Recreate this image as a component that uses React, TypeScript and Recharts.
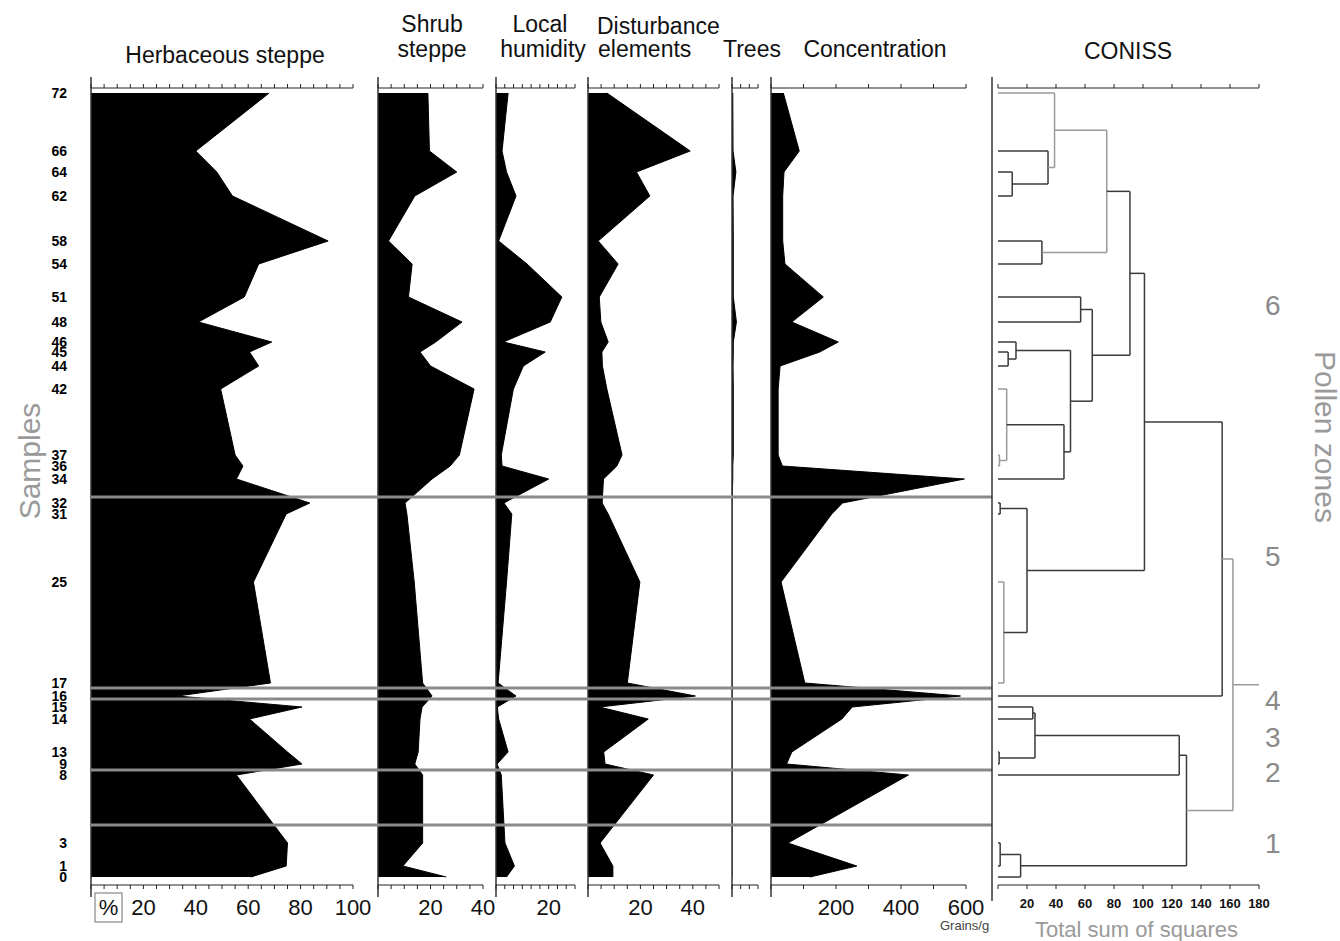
import React from 'react';
import { ComposedChart, Area, XAxis, YAxis, ReferenceLine } from 'recharts';

// samples, top (youngest) to bottom
const sampleLabels = ['72', '66', '64', '62', '58', '54', '51', '48', '46', '45', '44', '42', '37', '36', '34', '32', '31', '25', '17', '16', '15', '14', '13', '9', '8', '3', '1', '0'];
const sampleDepths = [0, 58, 79, 103, 148, 171, 204, 229, 249, 259, 273, 296, 362, 373, 386, 410, 421, 489, 590, 603, 614, 626, 659, 671, 682, 750, 773, 784];

// percentages
const herbaceous = [68, 40, 48, 54, 90.5, 64, 58.5, 41, 69, 60.5, 64, 49.5, 55, 58, 55.5, 83.5, 74.5, 62, 68.5, 33, 80.5, 60.5, 75, 80.5, 55.5, 75, 74.5, 61];
const shrub = [19, 19.6, 30, 14, 4, 13, 11.6, 32, 22, 16, 20, 36.6, 31, 27.5, 20.6, 10.3, 11, 13.8, 17, 20.6, 16.8, 16, 15.3, 14, 17, 17, 9.5, 26];
const humidity = [4.6, 2.3, 4, 7.6, 1, 11.8, 25, 20.6, 2.8, 18.7, 10.4, 6.6, 2, 2.3, 20, 3, 6, 4, 0.8, 7.6, 0.5, 1, 4.6, 0.4, 2, 3.4, 7, 4];
const disturbance = [7.2, 39, 18.5, 23.6, 3.9, 11.5, 4.3, 4.9, 7.7, 5.3, 5.5, 7.2, 13, 11, 5.9, 5.4, 7.7, 19.8, 15, 41, 4.4, 23, 6, 6.5, 25, 4.6, 9.5, 9.5];
const trees = [0.3, 0.4, 1.5, 0.4, 0.5, 0.5, 0.5, 1.7, 0.5, 0.5, 0.4, 0.5, 0.5, 0.3, 0.3, 0, 0, 0, 0, 0, 0, 0, 0, 0, 0, 0, 0, 0];
// grains/g
const concentration = [38, 87, 40, 36, 36, 43, 161, 64, 207, 150, 28, 22, 22, 35, 595, 220, 187, 31, 104, 583, 250, 218, 64, 48, 423, 52, 264, 120];

// pollen zones
const zoneBoundaries = [404, 595, 606, 677, 732];
const zoneLabels = ['6', '5', '4', '3', '2', '1'];
const zoneLabelDepths = [212, 463, 607, 644, 679, 750];

// CONISS merges: [member a, member b, total sum of squares]; m<n> = n-th merge
const conissMerges: [string, string, number][] = [
  ['64', '62', 9.8],
  ['66', 'm1', 34.5],
  ['72', 'm2', 39],
  ['58', '54', 30.3],
  ['m3', 'm4', 75],
  ['51', '48', 57],
  ['45', '44', 7],
  ['46', 'm7', 12.4],
  ['37', '36', 1],
  ['42', 'm9', 6],
  ['m10', '34', 45.5],
  ['m8', 'm11', 50],
  ['m6', 'm12', 65],
  ['m5', 'm13', 91],
  ['32', '31', 1.5],
  ['25', '17', 4],
  ['m15', 'm16', 20],
  ['m14', 'm17', 101],
  ['m18', '16', 154.6],
  ['15', '14', 24],
  ['13', '9', 0.8],
  ['m20', 'm21', 25.5],
  ['m22', '8', 125],
  ['3', '1', 1.5],
  ['m24', '0', 15.6],
  ['m23', 'm25', 130],
  ['m19', 'm26', 162],
];
const conissMax = 180;
const conissLight = ['m3', 'm5', 'm9', 'm10', 'm16', 'm27'];

const W = 1340;
const H = 941;
const FONT = "'Liberation Sans', Arial, sans-serif";
const DEPTH_DOMAIN: [number, number] = [-5, 792];
const TOP_MARGIN = 87;
const BOTTOM_MARGIN = 26;
const AXIS_COLOR = '#222';

const rows = sampleDepths.map((depth, i) => ({
  depth,
  herbaceous: herbaceous[i],
  shrub: shrub[i],
  humidity: humidity[i],
  disturbance: disturbance[i],
  trees: trees[i],
  concentration: concentration[i],
}));

const panels = [
  { key: 'herbaceous', left: 91, right: 353, max: 100, intervals: 20, labels: [20, 40, 60, 80, 100], samples: true },
  { key: 'shrub', left: 378, right: 483, max: 40, intervals: 8, labels: [20, 40] },
  { key: 'humidity', left: 496, right: 575, max: 30, intervals: 9, labels: [20] },
  { key: 'disturbance', left: 588, right: 719, max: 50, intervals: 10, labels: [20, 40] },
  { key: 'trees', left: 732, right: 758, max: 10, intervals: 3, labels: [] },
  { key: 'concentration', left: 771, right: 966, max: 600, intervals: 6, labels: [200, 400, 600] },
];

const tickRange = (max: number, n: number) => Array.from({ length: n + 1 }, (_, i) => (max * i) / n);
const blank = () => '';

const Panel = ({ p }: { p: any }) => {
  const ticks = tickRange(p.max, p.intervals);
  const yw = p.samples ? 40 : 0;
  return (
    <div style={{ position: 'absolute', left: 0, top: 0 }}>
      <ComposedChart
        layout="vertical"
        width={W}
        height={H}
        data={rows}
        margin={{ top: TOP_MARGIN, bottom: BOTTOM_MARGIN, left: p.left - yw, right: W - p.right }}
      >
        <XAxis xAxisId="top" orientation="top" type="number" domain={[0, p.max]} ticks={ticks} interval={0}
          tickFormatter={blank} tickSize={4} height={1} allowDataOverflow stroke={AXIS_COLOR} />
        <XAxis xAxisId="bottom" orientation="bottom" type="number" domain={[0, p.max]} ticks={ticks} interval={0}
          tickSize={4} tickMargin={10} height={30} allowDataOverflow stroke={AXIS_COLOR}
          tick={{ fontSize: 22, fill: '#111', fontFamily: FONT }}
          tickFormatter={(v: number) => {
            const l = p.labels.find((x: number) => Math.abs(x - v) < 1e-6);
            return l === undefined ? '' : String(l);
          }} />
        <YAxis type="number" dataKey="depth" domain={DEPTH_DOMAIN} allowDataOverflow hide={!p.samples}
          width={yw} ticks={sampleDepths} interval={0} axisLine={false} tickLine={false} tickSize={0} tickMargin={24}
          tick={{ fontSize: 14, fontWeight: 'bold', fill: '#000', fontFamily: FONT }}
          tickFormatter={(v: number) => sampleLabels[sampleDepths.indexOf(v)] ?? ''} />
        <Area xAxisId="bottom" type="linear" dataKey={p.key} fill="#000" fillOpacity={1} stroke="#000"
          strokeWidth={1} dot={false} activeDot={false} isAnimationActive={false} />
        <ReferenceLine xAxisId="bottom" segment={[{ x: 0, y: -16 }, { x: 0, y: 804 }]}
          stroke="#333" strokeWidth={1.5} ifOverflow="visible" />
      </ComposedChart>
    </div>
  );
};

const buildConiss = () => {
  const depthOf: Record<string, number> = {};
  const heightOf: Record<string, number> = {};
  sampleLabels.forEach((s, i) => {
    depthOf[s] = sampleDepths[i];
    heightOf[s] = 0;
  });
  const segs: { a: { x: number; y: number }; b: { x: number; y: number }; light: boolean }[] = [];
  let last = '';
  conissMerges.forEach(([a, b, h], i) => {
    const id = `m${i + 1}`;
    const light = conissLight.includes(id);
    segs.push({ a: { x: h, y: depthOf[a] }, b: { x: h, y: depthOf[b] }, light });
    segs.push({ a: { x: heightOf[a], y: depthOf[a] }, b: { x: h, y: depthOf[a] }, light });
    segs.push({ a: { x: heightOf[b], y: depthOf[b] }, b: { x: h, y: depthOf[b] }, light });
    depthOf[id] = (depthOf[a] + depthOf[b]) / 2;
    heightOf[id] = h;
    last = id;
  });
  segs.push({ a: { x: heightOf[last], y: depthOf[last] }, b: { x: conissMax, y: depthOf[last] }, light: true });
  return segs;
};

const Coniss = () => {
  const segs = buildConiss();
  const ticks = tickRange(conissMax, 9);
  const zw = 40;
  const left = 998;
  const right = 1259;
  const frameX = ((992 - left) / (right - left)) * conissMax;
  return (
    <div style={{ position: 'absolute', left: 0, top: 0 }}>
      <ComposedChart
        layout="vertical"
        width={W}
        height={H}
        data={rows}
        margin={{ top: TOP_MARGIN, bottom: BOTTOM_MARGIN, left, right: W - right - zw }}
      >
        <XAxis xAxisId="top" orientation="top" type="number" domain={[0, conissMax]} ticks={ticks} interval={0}
          tickFormatter={blank} tickSize={4} height={1} allowDataOverflow stroke={AXIS_COLOR} />
        <XAxis xAxisId="bottom" orientation="bottom" type="number" domain={[0, conissMax]} ticks={ticks} interval={0}
          tickSize={4} tickMargin={10} height={30} allowDataOverflow stroke={AXIS_COLOR}
          tick={{ fontSize: 13, fontWeight: 'bold', fill: '#111', fontFamily: FONT }}
          tickFormatter={(v: number) => (v === 0 ? '' : String(Math.round(v)))} />
        <YAxis orientation="right" type="number" dataKey="depth" domain={DEPTH_DOMAIN} allowDataOverflow
          width={zw} ticks={zoneLabelDepths} interval={0} axisLine={false} tickLine={false} tickSize={0} tickMargin={6}
          tick={{ fontSize: 28, fill: '#8a8a8a', fontFamily: FONT }}
          tickFormatter={(v: number) => zoneLabels[zoneLabelDepths.indexOf(v)] ?? ''} />
        <ReferenceLine xAxisId="bottom" segment={[{ x: frameX, y: -16 }, { x: frameX, y: 808 }]}
          stroke="#333" strokeWidth={1.5} ifOverflow="visible" />
        {segs.map((s, i) => (
          <ReferenceLine key={i} xAxisId="bottom" segment={[s.a, s.b]} stroke={s.light ? '#9a9a9a' : '#3a3a3a'}
            strokeWidth={1.5} ifOverflow="visible" />
        ))}
      </ComposedChart>
    </div>
  );
};

const ZoneLines = () => (
  <div style={{ position: 'absolute', left: 0, top: 0 }}>
    <ComposedChart layout="vertical" width={W} height={H} data={rows}
      margin={{ top: TOP_MARGIN + 1, bottom: BOTTOM_MARGIN + 30, left: 91, right: W - 992 }}>
      <XAxis type="number" domain={[0, 100]} allowDataOverflow hide />
      <YAxis type="number" dataKey="depth" domain={DEPTH_DOMAIN} allowDataOverflow hide />
      <Area type="linear" dataKey="herbaceous" fill="none" stroke="none" dot={false} activeDot={false}
        isAnimationActive={false} />
      {zoneBoundaries.map((d) => (
        <ReferenceLine key={d} segment={[{ x: 0, y: d }, { x: 100, y: d }]} stroke="#8a8a8a" strokeWidth={3}
          ifOverflow="visible" />
      ))}
    </ComposedChart>
  </div>
);

const Titles = () => (
  <svg width={W} height={H} style={{ position: 'absolute', left: 0, top: 0 }} fontFamily={FONT}>
    <g fontSize={23} fill="#111">
      <text x={225} y={63} textAnchor="middle">Herbaceous steppe</text>
      <text x={432} y={32} textAnchor="middle">Shrub</text>
      <text x={432} y={57} textAnchor="middle">steppe</text>
      <text x={540} y={32} textAnchor="middle">Local</text>
      <text x={543} y={57} textAnchor="middle">humidity</text>
      <text x={597} y={34}>Disturbance</text>
      <text x={598} y={57}>elements</text>
      <text x={752} y={57} textAnchor="middle">Trees</text>
      <text x={875} y={57} textAnchor="middle">Concentration</text>
      <text x={1128} y={59} textAnchor="middle">CONISS</text>
    </g>
    <rect x={95} y={893} width={27} height={29} fill="none" stroke="#888" strokeWidth={1.2} />
    <text x={108.5} y={915} textAnchor="middle" fontSize={22} fill="#111">%</text>
    <text x={940} y={930} fontSize={13} fill="#444">Grains/g</text>
    <text x={1035} y={937} fontSize={22} fill="#9a9a9a">Total sum of squares</text>
    <text x={29} y={461} textAnchor="middle" dominantBaseline="central" fontSize={30} fill="#9a9a9a"
      transform="rotate(-90 29 461)">Samples</text>
    <text x={1325} y={437} textAnchor="middle" dominantBaseline="central" fontSize={30} fill="#9a9a9a"
      transform="rotate(90 1325 437)">Pollen zones</text>
  </svg>
);

export default function App() {
  return (
    <div style={{ position: 'absolute', left: 0, top: 0, width: W, height: H, background: '#fff' }}>
      <Titles />
      {panels.map((p) => (
        <Panel key={p.key} p={p} />
      ))}
      <ZoneLines />
      <Coniss />
    </div>
  );
}
